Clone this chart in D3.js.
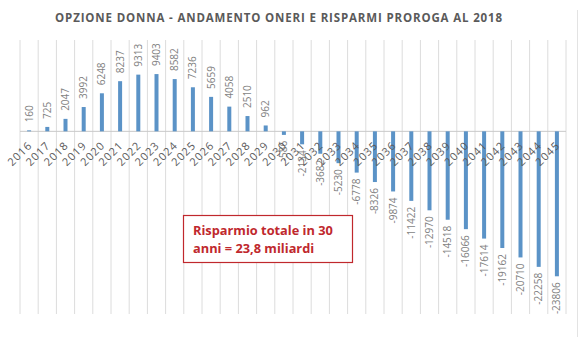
<!DOCTYPE html>
<html><head><meta charset="utf-8">
<script src="https://cdn.jsdelivr.net/npm/d3@7"></script>
<style>body{margin:0;background:#fff}svg{display:block}</style>
</head><body>
<script>
const years = ["2016","2017","2018","2019","2020","2021","2022","2023","2024","2025","2026","2027","2028","2029","2030","2031","2032","2033","2034","2035","2036","2037","2038","2039","2040","2041","2042","2043","2044","2045"];
const values = [160,725,2047,3992,6248,8237,9313,9403,8582,7236,5659,4058,2510,962,-586,-2134,-3682,-5230,-6778,-8326,-9874,-11422,-12970,-14518,-16066,-17614,-19162,-20710,-22258,-23806];
const title = "OPZIONE DONNA - ANDAMENTO ONERI E RISPARMI PROROGA AL 2018";
const noteLines = ["Risparmio totale in 30","anni = 23,8 miliardi"];
const yDomain = [15000, -30000];

const W = 580, H = 337;
const svg = d3.select("body").append("svg").attr("width", W).attr("height", H);

const x = d3.scaleBand().domain(years).range([20, 566]).padding(0);
const y = d3.scaleLinear().domain(yDomain).range([40, 314]);

// title
svg.append("text").attr("x", 279).attr("y", 22).attr("text-anchor","middle")
  .attr("font-family","Open Sans").attr("font-weight","bold").attr("font-size",11.5)
  .attr("letter-spacing","0.85").attr("fill","#5a5a5a").text(title);

// vertical gridlines at category boundaries
const bounds = years.map(d => x(d)).concat([x.range()[1]]);
svg.append("g").selectAll("line").data(bounds).join("line")
  .attr("x1", d=>d).attr("x2", d=>d).attr("y1", 40).attr("y2", 314)
  .attr("stroke","#dcdcdc").attr("stroke-width",1);

// zero axis
svg.append("line").attr("x1", 20).attr("x2", 566).attr("y1", y(0)).attr("y2", y(0))
  .attr("stroke","#c8c8c8").attr("stroke-width",1);

// bars
const bw = 4;
svg.append("g").selectAll("rect").data(values).join("rect")
  .attr("x", (d,i)=> x(years[i]) + x.bandwidth()/2 - bw/2)
  .attr("width", bw)
  .attr("y", d => Math.min(y(d), y(0)))
  .attr("height", d => Math.abs(y(d) - y(0)))
  .attr("fill","#5b93c7");

// value labels
svg.append("g").selectAll("text").data(values).join("text")
  .attr("transform", (d,i)=> {
    const cx = x(years[i]) + x.bandwidth()/2;
    const yy = d >= 0 ? y(d) - 8 : y(d) + 6;
    return `translate(${cx},${yy}) rotate(-90)`;
  })
  .attr("text-anchor", d => d >= 0 ? "start" : "end")
  .attr("dy","0.35em")
  .attr("font-family","Open Sans").attr("font-size",10)
  .attr("fill","#7f7f7f").text(d => d);

// year labels
svg.append("g").selectAll("text").data(years).join("text")
  .attr("transform", d => `translate(${x(d)+x.bandwidth()/2+1},${y(0)+12}) rotate(-45)`)
  .attr("text-anchor","end").attr("dy","0.35em")
  .attr("font-family","Open Sans").attr("font-size",11).attr("letter-spacing","1")
  .attr("fill","#5a5a5a").text(d => d);

// annotation box
const box = svg.append("g");
box.append("rect").attr("x",183.5).attr("y",215.5).attr("width",169).attr("height",47)
  .attr("fill","#fff").attr("stroke","#c0282d").attr("stroke-width",1.2);
box.selectAll("text").data(noteLines).join("text")
  .attr("x",193).attr("y",(d,i)=> 235 + i*18)
  .attr("font-family","Open Sans").attr("font-weight","bold").attr("font-size",12.8)
  .attr("fill","#c0282d").text(d=>d);

// right border artifact
svg.append("line").attr("x1",577.5).attr("x2",577.5).attr("y1",10).attr("y2",337)
  .attr("stroke","#e3e3e3");
</script>
</body></html>
